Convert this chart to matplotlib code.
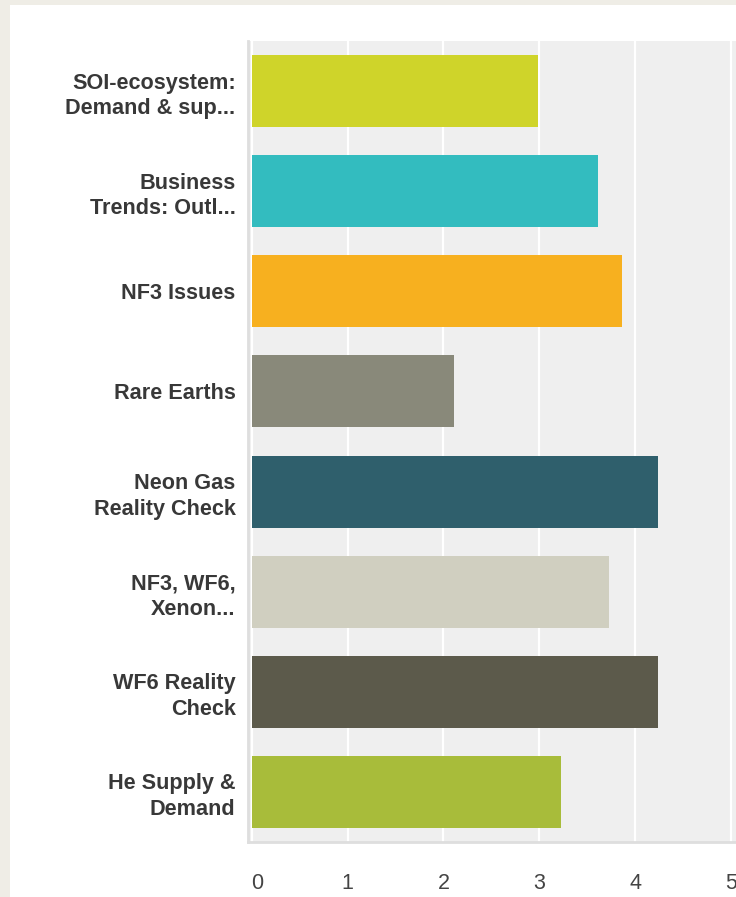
import matplotlib
matplotlib.use("Agg")
import matplotlib.pyplot as plt
import matplotlib.transforms as mtransforms
from matplotlib.patches import Rectangle

# Survey topics and their average ratings
categories = [
    "SOI-ecosystem:\nDemand & sup...",
    "Business\nTrends: Outl...",
    "NF3 Issues",
    "Rare Earths",
    "Neon Gas\nReality Check",
    "NF3, WF6,\nXenon...",
    "WF6 Reality\nCheck",
    "He Supply &\nDemand",
]
values = [2.99, 3.61, 3.86, 2.11, 4.24, 3.73, 4.24, 3.23]
bar_colors = ["#cfd42a", "#33bcbf", "#f7b01f", "#89897a",
              "#2f5f6c", "#d0cfc0", "#5c5a4b", "#a8bc3a"]
x_ticks = [0, 1, 2, 3, 4, 5]

plt.rcParams["font.family"] = ["Liberation Sans", "DejaVu Sans"]

W, H = 736, 897
fig = plt.figure(figsize=(W / 100, H / 100), dpi=100, facecolor="#efede6")

# white card on the beige page
fig.patches.append(Rectangle((10 / W, 0), 1, (H - 5) / H, transform=fig.transFigure,
                             facecolor="white", edgecolor="none", zorder=-10))

x_min, x_max = -0.04, 5.3
px_per_unit = 95.8
ax_left = 248 / W
ax_width = (x_max - x_min) * px_per_unit / W
ax_bottom = (H - 842) / H
ax_height = (842 - 41) / H
ax = fig.add_axes([ax_left, ax_bottom, ax_width, ax_height])
ax.set_zorder(1)
ax.set_facecolor("#efefef")

ypos = list(range(len(categories)))
ax.barh(ypos, values, height=0.72, color=bar_colors, zorder=3)

ax.set_xlim(x_min, x_max)
ax.set_ylim(len(categories) - 0.5, -0.5)
ax.set_xticks(x_ticks)
ax.set_xticklabels([str(t) for t in x_ticks])
ax.set_yticks(ypos)
ax.set_yticklabels(categories, fontsize=15.6, fontweight="bold", color="#383838",
                   linespacing=1.28)

ax.xaxis.grid(True, color="white", linewidth=1.6, zorder=1)
ax.set_axisbelow(True)

ax.tick_params(axis="x", length=0, pad=22, labelsize=15.5, labelcolor="#444444")
ax.tick_params(axis="y", length=0, pad=9)

for side in ("top", "right"):
    ax.spines[side].set_visible(False)
for side in ("left", "bottom"):
    ax.spines[side].set_color("#dedede")
    ax.spines[side].set_linewidth(2)

# nudge the "0" label right, off the axis edge
zero_lbl = ax.get_xticklabels()[0]
zero_lbl.set_transform(zero_lbl.get_transform() +
                       mtransforms.ScaledTranslation(5 / 100, 0, fig.dpi_scale_trans))

fig.savefig("out.png", dpi=100, facecolor=fig.get_facecolor())
